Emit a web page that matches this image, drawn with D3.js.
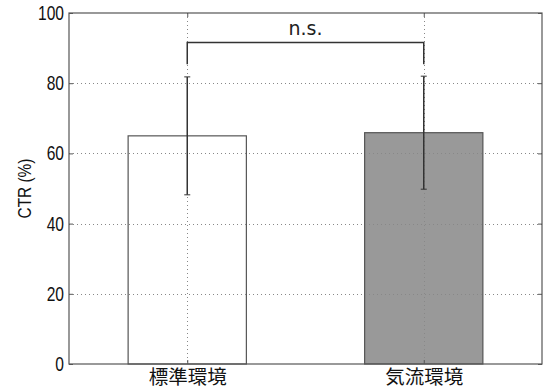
<!DOCTYPE html>
<html>
<head>
<meta charset="utf-8">
<script src="https://cdn.jsdelivr.net/npm/d3@7"></script>
<style>
  html, body { margin: 0; padding: 0; background: #fff; }
  svg { display: block; }
</style>
</head>
<body>
<svg id="chart" width="543" height="392"></svg>
<script>
// Conditions, mean CTR and error half-widths
const categories = ["標準環境", "気流環境"];
const means = [65.0, 65.9];
const errors = [16.8, 16.1];
const barFills = ["#ffffff", "#999999"];
const yTicks = [0, 20, 40, 60, 80, 100];
const sigLabel = "n.s.";
const sigBracket = [91.6, 85.4]; // bracket top and leg end (y units)

const W = 543, H = 392;
const margin = { top: 13, right: 1, bottom: 28, left: 69 };
const iw = W - margin.left - margin.right;
const ih = H - margin.top - margin.bottom;
const numFont = "Liberation Sans, Arial, sans-serif";
const narrow = 0.78; // horizontal squeeze for the condensed numeric labels

const svg = d3.select("#chart");
const g = svg.append("g").attr("transform", `translate(${margin.left},${margin.top})`);

// Category positions 0..n-1 on a linear axis padded by half a slot on each side
const x = d3.scaleLinear().domain([-0.5, categories.length - 0.5]).range([0, iw]);
const y = d3.scaleLinear().domain([0, 100]).range([ih, 0]);
const barW = x(0.5) - x(0);

// Bars
g.selectAll("rect.bar").data(means).join("rect")
  .attr("class", "bar")
  .attr("x", (d, i) => x(i) - barW / 2)
  .attr("y", d => y(d))
  .attr("width", barW)
  .attr("height", d => y(0) - y(d))
  .attr("fill", (d, i) => barFills[i])
  .attr("stroke", "#555")
  .attr("stroke-width", 1.2);

// Dotted grid drawn over the bars
const grid = g.append("g").attr("stroke", "#888").attr("stroke-width", 1).attr("stroke-dasharray", "1,3");
grid.selectAll("line.h").data(yTicks.slice(1, -1)).join("line")
  .attr("x1", 0).attr("x2", iw)
  .attr("y1", d => Math.round(y(d)) + 0.5).attr("y2", d => Math.round(y(d)) + 0.5);
grid.selectAll("line.v").data(categories).join("line")
  .attr("y1", 0).attr("y2", ih)
  .attr("x1", (d, i) => Math.round(x(i)) + 0.5).attr("x2", (d, i) => Math.round(x(i)) + 0.5);

// Error bars
const eb = g.append("g").attr("stroke", "#333").attr("stroke-width", 1.5);
means.forEach((m, i) => {
  const cx = x(i);
  eb.append("line").attr("x1", cx).attr("x2", cx).attr("y1", y(m + errors[i])).attr("y2", y(m - errors[i]));
  [m + errors[i], m - errors[i]].forEach(v => {
    eb.append("line").attr("x1", cx - 3).attr("x2", cx + 3).attr("y1", y(v)).attr("y2", y(v)).attr("stroke-width", 1);
  });
});

// Significance bracket
g.append("path")
  .attr("d", `M${x(0)},${y(sigBracket[1])} V${y(sigBracket[0])} H${x(1)} V${y(sigBracket[1])}`)
  .attr("fill", "none").attr("stroke", "#333").attr("stroke-width", 1.5);
g.append("text")
  .attr("x", (x(0) + x(1)) / 2).attr("y", y(sigBracket[0]) - 7)
  .attr("text-anchor", "middle")
  .attr("font-family", "DejaVu Sans, sans-serif").attr("font-size", 19)
  .attr("fill", "#222")
  .text(sigLabel);

// Frame
g.append("rect").attr("x", 0).attr("y", 0).attr("width", iw).attr("height", ih)
  .attr("fill", "none").attr("stroke", "#555").attr("stroke-width", 1.2);

// Y axis (left with labels, right mirrored ticks)
const yAxisL = d3.axisLeft(y).tickValues(yTicks).tickSize(-4).tickPadding(5).tickFormat(d3.format("d"));
const yl = g.append("g").call(yAxisL);
yl.select(".domain").remove();
yl.selectAll("line").attr("stroke", "#555");
yl.selectAll("text")
  .attr("x", 0)
  .attr("transform", `translate(-5,0) scale(${narrow},1)`)
  .attr("font-family", numFont).attr("font-size", 20).attr("fill", "#111");

const yr = g.append("g").attr("transform", `translate(${iw},0)`)
  .call(d3.axisRight(y).tickValues(yTicks).tickSize(-4).tickFormat(""));
yr.select(".domain").remove();
yr.selectAll("line").attr("stroke", "#555");

// X axis: category labels and inward ticks top and bottom
const xAxisB = d3.axisBottom(x).tickValues(d3.range(categories.length)).tickSize(-4).tickPadding(8)
  .tickFormat(i => categories[i]);
const xb = g.append("g").attr("transform", `translate(0,${ih})`).call(xAxisB);
xb.select(".domain").remove();
xb.selectAll("line").attr("stroke", "#555");
xb.selectAll("text")
  .attr("font-family", "Noto Sans CJK JP, sans-serif")
  .attr("font-size", 19.5).attr("fill", "#111").attr("dy", "0.6em");

const xt = g.append("g").call(d3.axisTop(x).tickValues(d3.range(categories.length)).tickSize(-4).tickFormat(""));
xt.select(".domain").remove();
xt.selectAll("line").attr("stroke", "#555");

// Y axis title
svg.append("text")
  .attr("transform", `translate(31,${margin.top + ih / 2}) rotate(-90) scale(${narrow + 0.03},1)`)
  .attr("text-anchor", "middle")
  .attr("font-family", numFont)
  .attr("font-size", 19).attr("fill", "#111")
  .text("CTR (%)");
</script>
</body>
</html>
